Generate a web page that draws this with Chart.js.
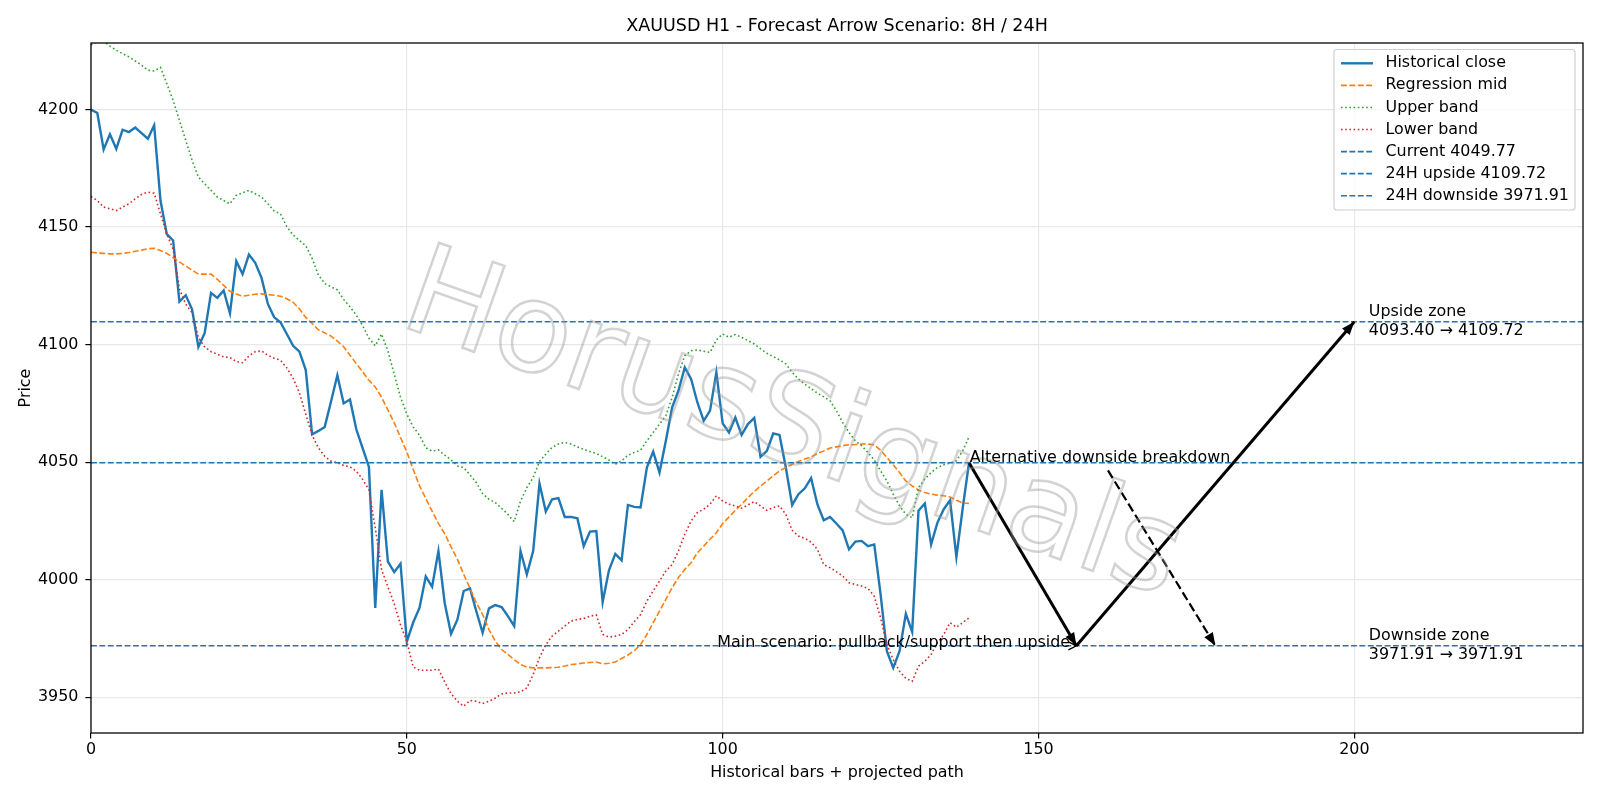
<!DOCTYPE html>
<html>
<head>
<meta charset="utf-8">
<script src="https://cdn.jsdelivr.net/npm/chart.js@4.4.1/dist/chart.umd.min.js"></script>
<style>
    html, body { margin: 0; padding: 0; background: #fff; }
</style>
</head>
<body>
<canvas id="chart" width="1600" height="800"></canvas>
<script>
// Historical closes, one per H1 bar (bar index 0..139)
const histClose = [
    4200, 4198.5, 4183, 4189.5, 4183.3, 4191.4, 4190.4, 4192.3, 4190, 4187.6,
    4193.3, 4161.3, 4147, 4144.3, 4118.3, 4121, 4115, 4099, 4105, 4122,
    4119.9, 4123, 4113.3, 4135.5, 4130, 4138.3, 4134.8, 4128.4, 4117.3, 4111.6,
    4109.5, 4104.5, 4099.5, 4097, 4089.2, 4061.8, 4063.3, 4065, 4075.8, 4087,
    4075, 4076.7, 4064, 4056, 4048, 3988, 4038.2, 4007.7, 4003.2, 4006.8,
    3973.7, 3981.8, 3988, 4001.4, 3997, 4012.2, 3990, 3977, 3983, 3995.2,
    3996.3, 3986.6, 3977.4, 3987.8, 3989.2, 3988.4, 3984.5, 3980.3, 4012.2, 4002.3,
    4012.2, 4040.9, 4029, 4034.2, 4034.7, 4026.7, 4026.7, 4026.1, 4014.3, 4020.5,
    4020.7, 3990.5, 4004, 4011, 4008.2, 4031.8, 4031, 4030.7, 4047.7, 4054.5,
    4045.6, 4059, 4073.3, 4080.4, 4090.3, 4085.4, 4075.4, 4067.6, 4071.9, 4088.2,
    4066.5, 4062.6, 4069, 4061.6, 4066.2, 4068.8, 4052.3, 4054.8, 4062.2, 4061.6,
    4047.7, 4031.8, 4036.4, 4038.9, 4043.2, 4032, 4025.3, 4026.7, 4023.9, 4021,
    4012.9, 4016.2, 4016.5, 4014.3, 4015, 3993.8, 3969.6, 3962.5, 3969.6, 3985.5,
    3977.8, 4029.3, 4032.4, 4015, 4024.3, 4030, 4033.8, 4009.7, 4030.4, 4049.77
];

const regMid = [
    4139.3, 4139, 4138.8, 4138.6, 4138.6, 4138.8, 4139.2, 4139.7, 4140.2, 4140.8,
    4141, 4140, 4138.8, 4137, 4135.2, 4133.4, 4131.7, 4130, 4130, 4130,
    4127.8, 4125.2, 4122.7, 4121.5, 4120.6, 4121, 4121.4, 4121.6, 4121.3, 4121,
    4120.6, 4119.5, 4118, 4115.2, 4111.6, 4109, 4106.3, 4105, 4103.6, 4101.5,
    4099.1, 4095.5, 4091.9, 4088.5, 4084.8, 4082, 4077.6, 4072.2, 4066.8, 4060.5,
    4054.3, 4047, 4040, 4034.6, 4029.2, 4024, 4019.5, 4014, 4008.7, 4002.3,
    3996.3, 3990.2, 3985.2, 3978.8, 3973.9, 3970.3, 3968.2, 3966, 3963.9, 3962.8,
    3962.5, 3962.5, 3962.5, 3962.6, 3962.8, 3963.3, 3963.9, 3964.2, 3964.6, 3964.8,
    3965, 3964.2, 3964.5, 3965, 3966.5, 3968, 3969.8, 3972.4, 3976.7, 3981.7,
    3986.6, 3991.6, 3996.6, 4000.9, 4004.4, 4007.2, 4011.5, 4014.3, 4017.2, 4020,
    4023.9, 4026.7, 4029.5, 4032.1, 4034.9, 4037.5, 4039.9, 4042, 4044.2, 4046.3,
    4047.7, 4049.1, 4050.3, 4051.3, 4052.2, 4053.7, 4054.8, 4056, 4056.5, 4057,
    4057.4, 4057.5, 4057.7, 4057.7, 4057.4, 4055.1, 4052, 4048.9, 4045.6, 4042,
    4039.9, 4038.1, 4037.1, 4036.4, 4036, 4035.7, 4035.2, 4033.8, 4032.7, 4032.4
];

const upperBand = [
    4227.4, 4229, 4229, 4227, 4225.2, 4223.8, 4222.4, 4220.7, 4218.9, 4216.7,
    4216.4, 4217.9, 4211, 4203.9, 4195.4, 4186.9, 4178.4, 4171.3, 4168.4, 4165.6,
    4162.8, 4161.3, 4159.9, 4163.5, 4164.6, 4165.6, 4164.2, 4162.8, 4159.9, 4156.8,
    4155.6, 4150.2, 4146.6, 4144.3, 4142.1, 4136.7, 4129.6, 4126, 4124.6, 4123.3,
    4119.2, 4116.1, 4112.5, 4108.1, 4102.7, 4099.5, 4104.5, 4097.3, 4087.5, 4077.6,
    4070.4, 4065, 4061.5, 4056.1, 4054.7, 4055.2, 4053, 4051, 4048.4, 4047.7,
    4044.6, 4041.3, 4036.6, 4034.2, 4032.8, 4030.4, 4027.8, 4024.7, 4033.5, 4039.2,
    4043.5, 4050.3, 4053.4, 4056.3, 4057.7, 4058.4, 4057.7, 4056.5, 4055.5, 4054.5,
    4053.7, 4052.3, 4050.9, 4049.1, 4050.6, 4052.9, 4054.1, 4055.1, 4059.1, 4062.6,
    4066.2, 4069.7, 4077.6, 4087.5, 4095.3, 4097.4, 4097.7, 4097.2, 4096.7, 4102,
    4104.5, 4103.1, 4104.3, 4103.1, 4101.7, 4100.3, 4098.2, 4096.3, 4094.9, 4093.5,
    4091.8, 4088.2, 4085.4, 4083.2, 4081.3, 4079.3, 4077.8, 4076.1, 4071.9, 4066.9,
    4062.6, 4059.1, 4057, 4054.1, 4050.9, 4046.3, 4042, 4036.4, 4031.4, 4027.8,
    4026.4, 4039.2, 4042.8, 4045.6, 4047.7, 4048.9, 4049.6, 4050.6, 4054.8, 4060.8
];

const lowerBand = [
    4163, 4161.3, 4158.5, 4157.8, 4157, 4158.5, 4159.9, 4162, 4163.9, 4164.9,
    4164.4, 4155.6, 4147, 4140.6, 4123.6, 4117.2, 4113.6, 4103, 4099, 4097,
    4095.9, 4094.8, 4094.5, 4092.8, 4092.3, 4095.2, 4097, 4097.3, 4095.5, 4094.2,
    4093.4, 4090.1, 4085.7, 4079.4, 4070.4, 4061.5, 4056.1, 4052.5, 4050.4, 4049.8,
    4048.6, 4048, 4046.2, 4042.7, 4038.2, 4022, 4004.3, 3997, 3989.8, 3980.8,
    3973.7, 3962.9, 3961.5, 3961.5, 3961.5, 3962, 3956.5, 3951.5, 3948.3, 3946.2,
    3948.6, 3948.3, 3947.3, 3948.3, 3949.7, 3951.4, 3951.8, 3951.8, 3952.3, 3954,
    3959.7, 3966.8, 3972.4, 3976, 3978.1, 3980.3, 3982.4, 3983.1, 3983.5, 3984.5,
    3985, 3976.7, 3975.6, 3976, 3976.7, 3978.8, 3982.1, 3985.2, 3990.9, 3995.2,
    3999.4, 4003.7, 4006.5, 4012.2, 4019.3, 4025, 4028.6, 4030, 4032.1, 4035.7,
    4033.5, 4032.1, 4031.4, 4030.4, 4031.8, 4033.2, 4031.4, 4029.5, 4030.7, 4031.4,
    4027.8, 4021, 4018.6, 4017.6, 4016, 4012.9, 4006.5, 4005.1, 4003.4, 4001.6,
    3998.7, 3998, 3997.3, 3996.3, 3993, 3983.8, 3972.4, 3966, 3961.1, 3958,
    3956.8, 3963.2, 3965.3, 3968.2, 3973.2, 3976.7, 3981.7, 3979.8, 3981.7, 3983.8
];

// Key levels
const currentPrice = 4049.77;
const upsideTarget = 4109.72;
const downsideTarget = 3971.91;
const upsideFrom = 4093.40;

// Projected paths (bar index, price)
const mainPathX = [139, 156, 200];
const mainPathY = [currentPrice, downsideTarget, upsideTarget];
const altPathX = [161, 178];
const altPathY = [4046.5, downsideTarget];

// Axes
const xMin = 0, xMax = 236.2;
const yMin = 3934.8, yMax = 4228.3;
const xTicks = [0, 50, 100, 150, 200];
const yTicks = [3950, 4000, 4050, 4100, 4150, 4200];

const FONT = "'DejaVu Sans', sans-serif";
const FS = 15.9;
const BLUE = '#1f77b4';

function toPoints(values) {
    return values.map((v, i) => ({x: i, y: v}));
}
function hline(v) {
    return [{x: xMin, y: v}, {x: xMax, y: v}];
}

const lineBase = {pointRadius: 0, pointHoverRadius: 0, fill: false, tension: 0};

const datasets = [
    {...lineBase, legendText: 'Historical close', data: toPoints(histClose), borderColor: BLUE, borderWidth: 2.4, order: 10},
    {...lineBase, legendText: 'Regression mid', data: toPoints(regMid), borderColor: '#ff7f0e', borderWidth: 1.6, borderDash: [5.9, 2.5], order: 9},
    {...lineBase, legendText: 'Upper band', data: toPoints(upperBand), borderColor: '#2ca02c', borderWidth: 1.6, borderDash: [1.6, 2.6], order: 8},
    {...lineBase, legendText: 'Lower band', data: toPoints(lowerBand), borderColor: '#d62728', borderWidth: 1.6, borderDash: [1.6, 2.6], order: 7},
    {...lineBase, legendText: 'Current ' + currentPrice.toFixed(2), data: hline(currentPrice), borderColor: BLUE, borderWidth: 1.6, borderDash: [5.9, 2.5], order: 6},
    {...lineBase, legendText: '24H upside ' + upsideTarget.toFixed(2), data: hline(upsideTarget), borderColor: BLUE, borderWidth: 1.6, borderDash: [5.9, 2.5], order: 5},
    {...lineBase, legendText: '24H downside ' + downsideTarget.toFixed(2), data: hline(downsideTarget), borderColor: BLUE, borderWidth: 1.6, borderDash: [5.9, 2.5], order: 4},
    // arrows
    {...lineBase, arrow: true, data: [{x: mainPathX[0], y: mainPathY[0]}, {x: mainPathX[1], y: mainPathY[1]}], borderColor: '#000', borderWidth: 3, order: 3},
    {...lineBase, arrow: true, data: [{x: mainPathX[1], y: mainPathY[1]}, {x: mainPathX[2], y: mainPathY[2]}], borderColor: '#000', borderWidth: 3, order: 2},
    {...lineBase, arrow: true, data: [{x: altPathX[0], y: altPathY[0]}, {x: altPathX[1], y: altPathY[1]}], borderColor: '#000', borderWidth: 2.2, borderDash: [9, 4], order: 1}
];

// Text notes anchored to data coordinates
const notes = [
    {text: ['Alternative downside breakdown'], x: 139.1, y: currentPrice, align: 'left', base: 'alphabetic', dy: -0.5},
    {text: ['Main scenario: pullback/support then upside'], x: 155, y: downsideTarget, align: 'right', base: 'alphabetic', dy: 1},
    {text: ['Upside zone', upsideFrom.toFixed(2) + ' \u2192 ' + upsideTarget.toFixed(2)], x: 202.3, y: upsideTarget, align: 'left', base: 'middle', dy: 0},
    {text: ['Downside zone', downsideTarget.toFixed(2) + ' \u2192 ' + downsideTarget.toFixed(2)], x: 202.3, y: downsideTarget, align: 'left', base: 'middle', dy: 0}
];

const overlay = {
    id: 'overlay',
    afterDatasetsDraw(chart) {
        const ctx = chart.ctx;
        const a = chart.chartArea;

        // arrow heads at the end of each arrow dataset
        chart.data.datasets.forEach((ds, i) => {
            if (!ds.arrow) return;
            const pts = chart.getDatasetMeta(i).data;
            const p1 = pts[pts.length - 2], p2 = pts[pts.length - 1];
            const ang = Math.atan2(p2.y - p1.y, p2.x - p1.x);
            ctx.save();
            ctx.fillStyle = ds.borderColor;
            ctx.translate(p2.x, p2.y);
            ctx.rotate(ang);
            ctx.beginPath();
            ctx.moveTo(0, 0);
            ctx.lineTo(-13, 5);
            ctx.lineTo(-13, -5);
            ctx.closePath();
            ctx.fill();
            ctx.restore();
        });

        // small open head where the main scenario label points
        const hx = chart.scales.x.getPixelForValue(mainPathX[1]);
        const hy = chart.scales.y.getPixelForValue(downsideTarget);
        ctx.save();
        ctx.strokeStyle = '#000';
        ctx.lineWidth = 1.4;
        ctx.beginPath();
        ctx.moveTo(hx - 8, hy - 4);
        ctx.lineTo(hx, hy);
        ctx.lineTo(hx - 8, hy + 4);
        ctx.stroke();
        ctx.restore();

        // watermark
        ctx.save();
        ctx.beginPath();
        ctx.rect(a.left, a.top, a.right - a.left, a.bottom - a.top);
        ctx.clip();
        ctx.translate(792, 430);
        ctx.rotate(19.5 * Math.PI / 180);
        ctx.font = '125px ' + FONT;
        ctx.textAlign = 'center';
        ctx.textBaseline = 'middle';
        ctx.lineWidth = 2.5;
        ctx.strokeStyle = 'rgba(150,150,150,0.42)';
        ctx.strokeText('HorusSignals', 0, 0);
        ctx.restore();
    },
    afterDraw(chart) {
        const ctx = chart.ctx;
        const a = chart.chartArea;
        const xs = chart.scales.x, ys = chart.scales.y;

        // frame
        ctx.save();
        ctx.strokeStyle = '#000';
        ctx.lineWidth = 1.27;
        ctx.strokeRect(a.left, a.top, a.right - a.left, a.bottom - a.top);
        ctx.restore();

        // title
        ctx.save();
        ctx.fillStyle = '#000';
        ctx.font = '17.5px ' + FONT;
        ctx.textAlign = 'center';
        ctx.textBaseline = 'middle';
        ctx.fillText('XAUUSD H1 - Forecast Arrow Scenario: 8H / 24H', (a.left + a.right) / 2, 26.5);
        ctx.restore();

        // annotations
        ctx.save();
        ctx.fillStyle = '#000';
        ctx.font = FS + 'px ' + FONT;
        notes.forEach(n => {
            ctx.textAlign = n.align;
            ctx.textBaseline = n.base;
            const px = xs.getPixelForValue(n.x);
            const py = ys.getPixelForValue(n.y) + n.dy;
            const lh = 18.8;
            const start = py - (n.text.length - 1) * lh / 2;
            n.text.forEach((t, k) => ctx.fillText(t, px, start + k * lh));
        });
        ctx.restore();

        // legend, upper right inside the axes
        const items = chart.data.datasets.filter(ds => ds.legendText);
        const bx = 1334, by = 49.5, bw = 241, rowH = 22.07;
        const bh = items.length * rowH + 6;
        ctx.save();
        ctx.beginPath();
        ctx.roundRect(bx, by, bw, bh, 3);
        ctx.fillStyle = 'rgba(255,255,255,0.8)';
        ctx.fill();
        ctx.strokeStyle = '#d0d0d0';
        ctx.lineWidth = 1.2;
        ctx.stroke();
        ctx.font = FS + 'px ' + FONT;
        ctx.textAlign = 'left';
        ctx.textBaseline = 'middle';
        items.forEach((ds, k) => {
            const cy = by + 13.8 + k * rowH;
            ctx.beginPath();
            ctx.setLineDash(ds.borderDash || []);
            ctx.strokeStyle = ds.borderColor;
            ctx.lineWidth = ds.borderWidth;
            ctx.moveTo(bx + 7, cy);
            ctx.lineTo(bx + 39, cy);
            ctx.stroke();
            ctx.setLineDash([]);
            ctx.fillStyle = '#000';
            ctx.fillText(ds.legendText, bx + 51.5, cy);
        });
        ctx.restore();
    }
};

new Chart(document.getElementById('chart'), {
    type: 'line',
    data: {datasets: datasets},
    options: {
        responsive: false,
        animation: false,
        devicePixelRatio: 1,
        layout: {padding: {left: 0, right: 17, top: 43, bottom: 0}},
        plugins: {legend: {display: false}, tooltip: {enabled: false}, title: {display: false}},
        scales: {
            x: {
                type: 'linear',
                min: xMin,
                max: xMax,
                afterBuildTicks: s => { s.ticks = xTicks.map(v => ({value: v})); },
                afterFit: s => { s.height = 67; },
                ticks: {color: '#000', font: {family: FONT, size: FS}, padding: 2, maxRotation: 0, callback: v => String(v)},
                grid: {color: '#e8e8e8', lineWidth: 1.2, tickColor: '#000', tickLength: 5.6},
                border: {display: false},
                title: {display: true, text: 'Historical bars + projected path', color: '#000', font: {family: FONT, size: FS}, padding: {top: 0, bottom: 18}}
            },
            y: {
                type: 'linear',
                min: yMin,
                max: yMax,
                afterBuildTicks: s => { s.ticks = yTicks.map(v => ({value: v})); },
                afterFit: s => { s.width = 91; },
                ticks: {color: '#000', font: {family: FONT, size: FS}, padding: 7, callback: v => String(v)},
                grid: {color: '#e8e8e8', lineWidth: 1.2, tickColor: '#000', tickLength: 5.6},
                border: {display: false},
                title: {display: true, text: 'Price', color: '#000', font: {family: FONT, size: FS}, padding: {top: 16.5, bottom: 0}}
            }
        }
    },
    plugins: [overlay]
});
</script>
</body>
</html>
